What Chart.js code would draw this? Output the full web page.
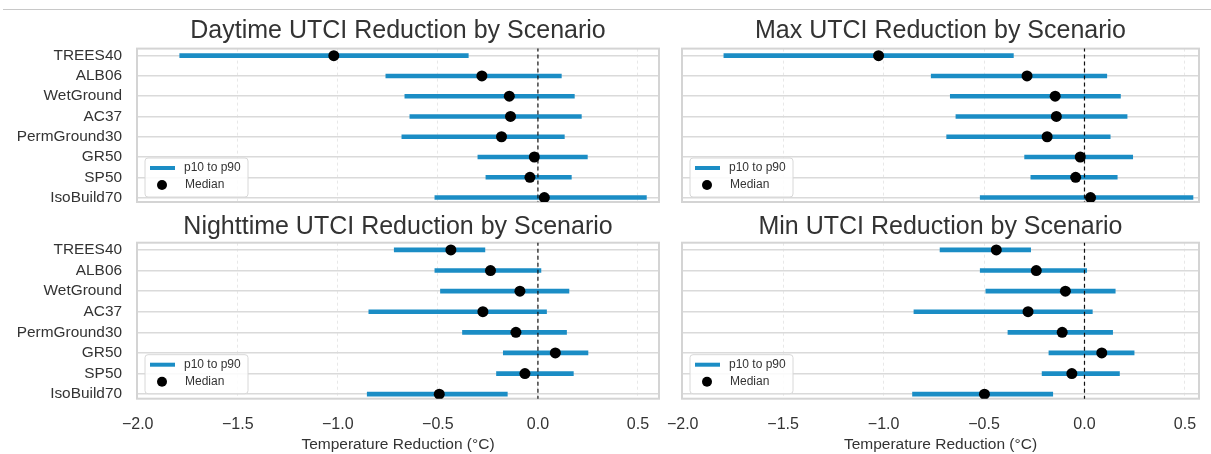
<!DOCTYPE html>
<html>
<head>
<meta charset="utf-8">
<script src="https://cdn.jsdelivr.net/npm/chart.js@4/dist/chart.umd.min.js"></script>
<style>
  body { margin: 0; background: #fff; }
  #wrap { position: relative; width: 1211px; height: 454px; overflow: hidden; }
  #wrap canvas { position: absolute; }
  #rule { position: absolute; left: 3px; right: 0; top: 9px; height: 0; border-top: 1px solid #c8c8c8; }
</style>
</head>
<body>
<div id="wrap">
  <div id="rule"></div>
  <canvas id="day" width="665" height="212" style="left:0;top:0"></canvas>
  <canvas id="max" width="546" height="212" style="left:665px;top:0"></canvas>
  <canvas id="night" width="665" height="242" style="left:0;top:212px"></canvas>
  <canvas id="min" width="546" height="242" style="left:665px;top:212px"></canvas>
</div>
<script>
const scenarios = ["TREES40", "ALB06", "WetGround", "AC37", "PermGround30", "GR50", "SP50", "IsoBuild70"];
const xTicks = [-2.0, -1.5, -1.0, -0.5, 0.0, 0.5];

const dayP10 = [-1.79, -0.76, -0.665, -0.64, -0.68, -0.30, -0.26, -0.515];
const dayMed = [-1.02, -0.28, -0.143, -0.137, -0.182, -0.018, -0.04, 0.032];
const dayP90 = [-0.348, 0.117, 0.182, 0.217, 0.132, 0.247, 0.167, 0.542];

const maxP10 = [-1.795, -0.763, -0.668, -0.64, -0.686, -0.298, -0.267, -0.519];
const maxMed = [-1.025, -0.286, -0.146, -0.14, -0.186, -0.021, -0.044, 0.03];
const maxP90 = [-0.354, 0.111, 0.179, 0.212, 0.128, 0.24, 0.163, 0.54];

const nightP10 = [-0.718, -0.515, -0.487, -0.845, -0.377, -0.173, -0.207, -0.853];
const nightMed = [-0.435, -0.237, -0.09, -0.275, -0.11, 0.087, -0.065, -0.493];
const nightP90 = [-0.265, 0.015, 0.155, 0.043, 0.143, 0.25, 0.177, -0.153];

const minP10 = [-0.719, -0.519, -0.491, -0.849, -0.381, -0.177, -0.211, -0.856];
const minMed = [-0.439, -0.24, -0.095, -0.281, -0.111, 0.086, -0.063, -0.498];
const minP90 = [-0.268, 0.011, 0.153, 0.039, 0.14, 0.247, 0.174, -0.158];

const FONT = "'Liberation Sans', Arial, sans-serif";
const BLUE = "#1b8dc5";
const TEXT = "#333333";

// border round the plot area + legend box inside, bottom left
const panelDeco = {
  id: "panelDeco",
  beforeDatasetsDraw(chart) {
    const a = chart.chartArea, ctx = chart.ctx;
    ctx.save();
    ctx.strokeStyle = "#d4d4d4";
    ctx.lineWidth = 2;
    ctx.strokeRect(a.left, a.top, a.right - a.left, a.bottom - a.top);
    ctx.restore();
  },
  afterDraw(chart) {
    const a = chart.chartArea, ctx = chart.ctx;
    const x = a.left + 8, y = a.bottom - 44, w = 103, h = 39;
    ctx.save();
    ctx.beginPath();
    ctx.roundRect(x, y, w, h, 3);
    ctx.fillStyle = "rgba(255,255,255,0.85)";
    ctx.fill();
    ctx.strokeStyle = "#d8d8d8";
    ctx.lineWidth = 1;
    ctx.stroke();
    ctx.strokeStyle = BLUE;
    ctx.lineWidth = 4;
    ctx.beginPath();
    ctx.moveTo(x + 5, y + 10);
    ctx.lineTo(x + 30, y + 10);
    ctx.stroke();
    ctx.fillStyle = "#000";
    ctx.beginPath();
    ctx.arc(x + 17, y + 27, 5, 0, Math.PI * 2);
    ctx.fill();
    ctx.fillStyle = TEXT;
    ctx.font = "12px " + FONT;
    ctx.textBaseline = "middle";
    ctx.fillText("p10 to p90", x + 39, y + 10);
    ctx.fillText("Median", x + 40, y + 27);
    ctx.restore();
  },
};

function fmt(v) {
  return v.toFixed(1).replace("-", "\u2212");
}

function noPad(s) {
  s.paddingTop = 0;
  s.paddingBottom = 0;
  s.paddingLeft = 0;
  s.paddingRight = 0;
}

function renderPanel(canvasId, title, p10, med, p90, opt) {
  const ctx = document.getElementById(canvasId);
  new Chart(ctx, {
    type: "scatter",
    data: {
      datasets: [
        {
          type: "scatter",
          data: scenarios.map((s, i) => ({ x: med[i], y: i })),
          pointRadius: 5.5,
          pointHoverRadius: 5.5,
          backgroundColor: "#000",
          borderWidth: 0,
          order: 0,
        },
        {
          type: "line",
          data: [{ x: 0, y: -0.4 }, { x: 0, y: 7.4 }],
          borderColor: "#111",
          borderWidth: 1.2,
          borderDash: [4, 3],
          pointRadius: 0,
          order: 1,
        },
        {
          type: "bar",
          indexAxis: "y",
          data: scenarios.map((s, i) => ({ x: [p10[i], p90[i]], y: i })),
          backgroundColor: BLUE,
          borderWidth: 0,
          barThickness: 4,
          order: 2,
        },
      ],
    },
    options: {
      responsive: false,
      animation: false,
      devicePixelRatio: 1,
      layout: { padding: { left: 0, right: opt.padRight, top: 0, bottom: 0 } },
      plugins: {
        legend: { display: false },
        tooltip: { enabled: false },
        title: {
          display: true,
          fullSize: false,
          text: title,
          color: TEXT,
          font: { family: FONT, size: 25, weight: "normal", lineHeight: 1.2 },
          padding: { top: opt.titleTop, bottom: opt.titleBottom },
        },
      },
      scales: {
        x: {
          type: "linear",
          min: opt.xMin,
          max: opt.xMax,
          offset: false,
          beginAtZero: false,
          afterBuildTicks: (s) => { s.ticks = xTicks.map((v) => ({ value: v })); },
          afterFit: (s) => { s.height = opt.xHeight; noPad(s); },
          grid: { color: "#e3e3e3", lineWidth: 0.8, drawTicks: false, offset: false },
          border: { display: false, dash: [3, 3] },
          ticks: {
            display: opt.showX,
            autoSkip: false,
            maxRotation: 0,
            color: TEXT,
            padding: 16,
            font: { family: FONT, size: 16 },
            callback: (v) => fmt(v),
          },
          title: {
            display: opt.showX,
            text: "Temperature Reduction (°C)",
            color: TEXT,
            font: { family: FONT, size: 15.5 },
            padding: { top: 0, bottom: 0 },
          },
        },
        y: {
          type: "linear",
          min: -0.35,
          max: 7.22,
          reverse: true,
          offset: false,
          beginAtZero: false,
          afterBuildTicks: (s) => { s.ticks = scenarios.map((n, i) => ({ value: i })); },
          afterFit: (s) => { s.width = opt.yWidth; noPad(s); },
          grid: { color: "#dadada", lineWidth: 1.5, drawTicks: false, offset: false },
          border: { display: false },
          ticks: {
            display: opt.showY,
            autoSkip: false,
            color: TEXT,
            padding: 15,
            font: { family: FONT, size: 15.4 },
            callback: (v) => scenarios[v],
          },
        },
      },
    },
    plugins: [panelDeco],
  });
}

const TOP = { titleTop: 16, titleBottom: 2.6, xHeight: 10, showX: false };
const BOTTOM = { titleTop: 0, titleBottom: 0.7, xHeight: 55.3, showX: true };
const LEFT = { yWidth: 137, padRight: 6, showY: true, xMin: -2.0035, xMax: 0.605 };
const RIGHT = { yWidth: 17, padRight: 12, showY: false, xMin: -2.0035, xMax: 0.57 };

renderPanel("day", "Daytime UTCI Reduction by Scenario", dayP10, dayMed, dayP90, { ...TOP, ...LEFT });
renderPanel("max", "Max UTCI Reduction by Scenario", maxP10, maxMed, maxP90, { ...TOP, ...RIGHT });
renderPanel("night", "Nighttime UTCI Reduction by Scenario", nightP10, nightMed, nightP90, { ...BOTTOM, ...LEFT });
renderPanel("min", "Min UTCI Reduction by Scenario", minP10, minMed, minP90, { ...BOTTOM, ...RIGHT });
</script>
</body>
</html>
